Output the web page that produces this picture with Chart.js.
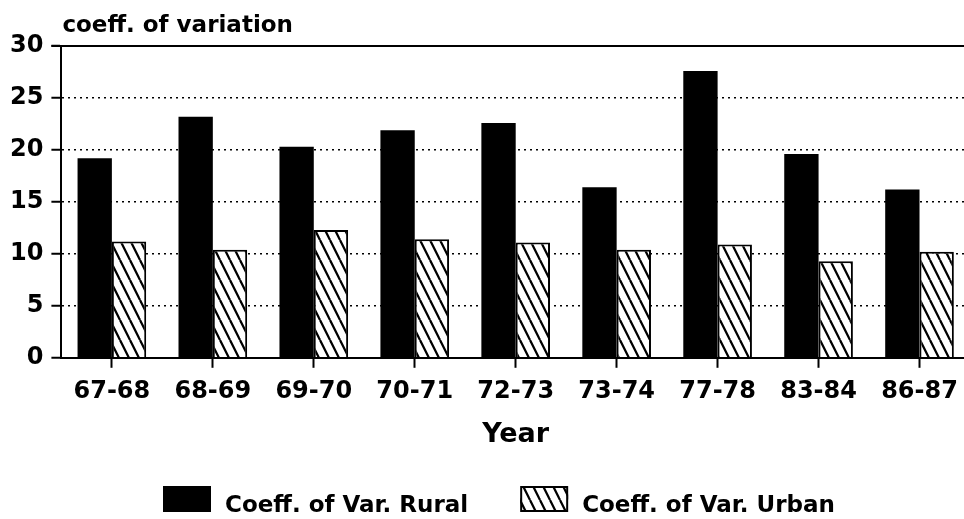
<!DOCTYPE html>
<html>
<head>
<meta charset="utf-8">
<script src="https://cdn.jsdelivr.net/npm/chart.js@4.4.0/dist/chart.umd.min.js"></script>
<style>
  html, body { margin: 0; padding: 0; background: #fff; overflow: hidden; }
  #wrap { width: 964px; height: 519px; overflow: hidden; }
</style>
</head>
<body>
<div id="wrap"><canvas id="chartData" width="972" height="519"></canvas></div>
<script>
// data
const years = ['67-68', '68-69', '69-70', '70-71', '72-73', '73-74', '77-78', '83-84', '86-87']
const ruralCV = [19.2, 23.2, 20.3, 21.9, 22.6, 16.4, 27.6, 19.6, 16.2]
const urbanCV = [11.2, 10.4, 12.3, 11.4, 11.1, 10.4, 10.9, 9.3, 10.2]
const yTicks = [0, 5, 10, 15, 20, 25, 30]

const FONT = "'DejaVu Sans', sans-serif"

// diagonal hatch like the old printer fill
function hatch() {
  const w = 10, h = 20
  const c = document.createElement('canvas')
  c.width = w
  c.height = h
  const g = c.getContext('2d')
  g.fillStyle = '#fff'
  g.fillRect(0, 0, w, h)
  g.strokeStyle = '#000'
  g.lineWidth = 2.2
  for (const k of [-1, 0, 1]) {
    g.beginPath()
    g.moveTo(k * w, 0)
    g.lineTo(k * w + w, h)
    g.stroke()
  }
  return g.createPattern(c, 'repeat')
}

// title on top, solid frame line at 30 and the legend under the axis
const extras = {
  id: 'extras',
  afterDraw(chart) {
    const ctx = chart.ctx
    const area = chart.chartArea
    const y = chart.scales.y
    ctx.save()

    ctx.strokeStyle = '#000'
    ctx.lineWidth = 2
    ctx.beginPath()
    ctx.moveTo(area.left - 10, y.getPixelForValue(30))
    ctx.lineTo(area.right, y.getPixelForValue(30))
    ctx.stroke()

    ctx.fillStyle = '#000'
    ctx.font = 'bold 23px ' + FONT
    ctx.textBaseline = 'alphabetic'
    ctx.fillText('coeff. of variation', area.left + 1, 32)

    let x = 163
    chart.data.datasets.forEach(ds => {
      ctx.fillStyle = ds.backgroundColor
      ctx.fillRect(x, 486, 48, 26)
      if (ds.borderWidth) {
        ctx.lineWidth = 2
        ctx.strokeStyle = '#000'
        ctx.strokeRect(x + 1, 487, 46, 24)
      }
      ctx.fillStyle = '#000'
      ctx.fillText(ds.label, x + 62, 512)
      x += 62 + ctx.measureText(ds.label).width + 52
    })
    ctx.restore()
  }
}

new Chart(document.getElementById('chartData'), {
  type: 'bar',
  data: {
    labels: years,
    datasets: [{
      label: 'Coeff. of Var. Rural',
      data: ruralCV,
      backgroundColor: '#000',
      borderWidth: 0
    }, {
      label: 'Coeff. of Var. Urban',
      data: urbanCV,
      backgroundColor: hatch(),
      borderColor: '#000',
      borderWidth: 2
    }]
  },
  options: {
    responsive: false,
    devicePixelRatio: 1,
    animation: false,
    barPercentage: 1,
    categoryPercentage: 0.68,
    layout: { padding: { left: 2, right: 2, top: 46, bottom: 68 } },
    plugins: {
      legend: { display: false },
      tooltip: { enabled: false }
    },
    scales: {
      x: {
        grid: {
          display: true,
          drawOnChartArea: false,
          drawTicks: true,
          offset: false,
          tickLength: 10,
          color: '#000',
          tickColor: '#000',
          tickWidth: 2
        },
        border: { display: true, color: '#000', width: 2 },
        ticks: {
          color: '#000',
          padding: 10,
          maxRotation: 0,
          autoSkip: false,
          font: { family: FONT, size: 24, weight: 'bold' }
        },
        title: {
          display: true,
          text: 'Year',
          color: '#000',
          padding: { top: 2, bottom: 0 },
          font: { family: FONT, size: 27, weight: 'bold' }
        }
      },
      y: {
        min: 0,
        max: 30,
        afterBuildTicks: scale => {
          scale.ticks = yTicks.map(v => ({ value: v }))
        },
        grid: {
          color: '#000',
          lineWidth: 1.5,
          drawTicks: true,
          tickLength: 10,
          tickColor: '#000',
          tickWidth: 2
        },
        border: { display: true, color: '#000', width: 2, dash: [2, 4] },
        ticks: {
          color: '#000',
          padding: 8,
          font: { family: FONT, size: 24, weight: 'bold' }
        }
      }
    }
  },
  plugins: [extras]
})
</script>
</body>
</html>
